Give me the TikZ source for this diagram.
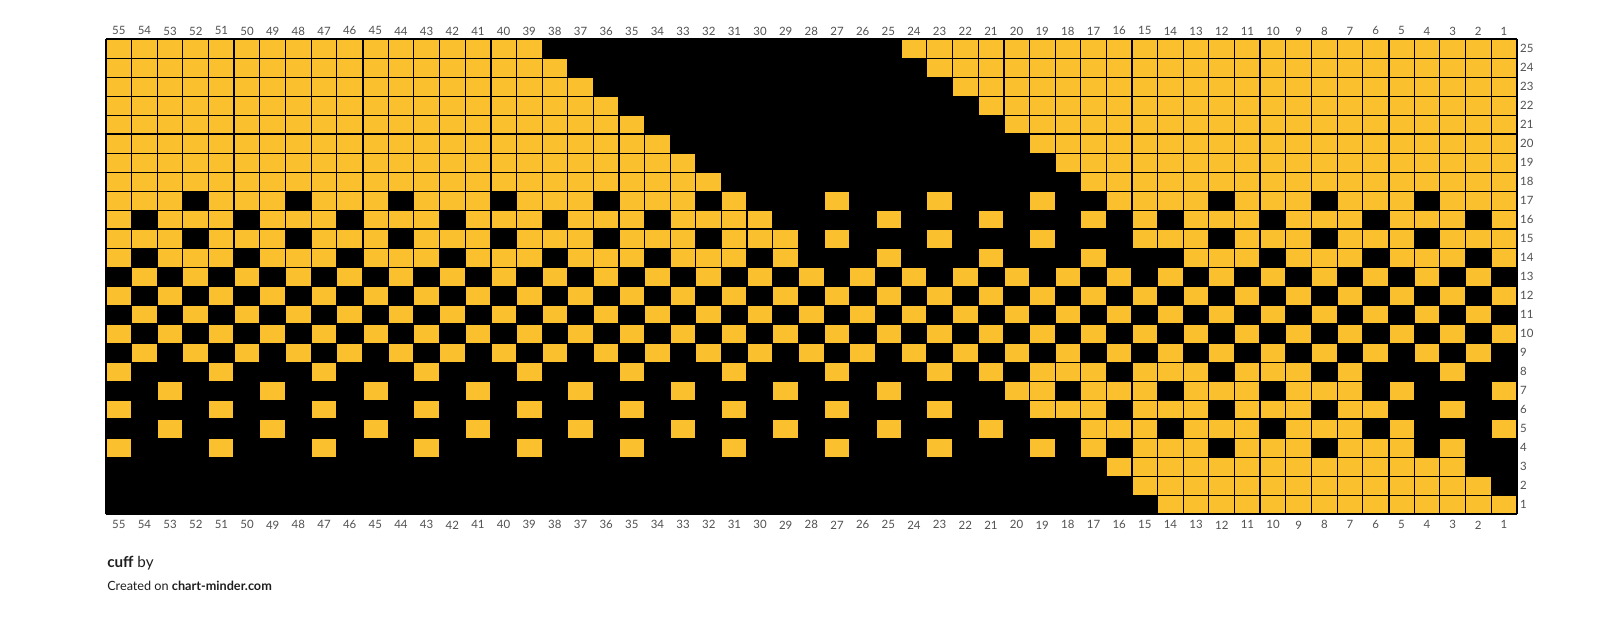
\documentclass[tikz,border=0pt]{standalone}
\usepackage{fontspec}
\setmainfont{Lato}
\definecolor{stitchgold}{RGB}{251,192,45}
\definecolor{labelgray}{RGB}{80,80,80}
\definecolor{footerdark}{RGB}{30,30,30}

% one row of gold stitches, given as ranges of columns (from/to)
\newcommand{\goldrow}[2]{%
  \foreach \a/\b in {#2} \fill[stitch] ({55-\a},{#1-1}) rectangle ({56-\b},#1);}

\begin{document}
\begin{tikzpicture}[
    x=19.24pt, y=14.25pt,
    stitch/.style={fill=stitchgold},
    thinline/.style={draw=black, line width=0.75pt},
    thickline/.style={draw=black, line width=1.5pt},
    collabel/.style={font=\fontsize{8.6}{9}\selectfont, text=labelgray, inner sep=0pt},
    rowlabel/.style={collabel, anchor=west},
    footer/.style={anchor=west, inner sep=0pt, text=footerdark}
]
\useasboundingbox (-4.1326,-5.405) rectangle (59.103,27.068);

% Background of the chart
\fill[black] (0,0) rectangle (55,25);

% Rows 25 to 18
\goldrow{25}{55/39, 24/1}
\goldrow{24}{55/38, 23/1}
\goldrow{23}{55/37, 22/1}
\goldrow{22}{55/36, 21/1}
\goldrow{21}{55/35, 20/1}
\goldrow{20}{55/34, 19/1}
\goldrow{19}{55/33, 18/1}
\goldrow{18}{55/32, 17/1}

% Rows 17 to 14
\goldrow{17}{55/53, 51/49, 47/45, 43/41, 39/37, 35/33, 31/31, 27/27, 23/23, 19/19, 16/13, 11/9, 7/5, 3/1}
\goldrow{16}{55/55, 53/51, 49/47, 45/43, 41/39, 37/35, 33/30, 25/25, 21/21, 17/17, 15/15, 13/11, 9/7, 5/3, 1/1}
\goldrow{15}{55/53, 51/49, 47/45, 43/41, 39/37, 35/33, 31/29, 27/27, 23/23, 19/19, 15/13, 11/9, 7/5, 3/1}
\goldrow{14}{55/55, 53/51, 49/47, 45/43, 41/39, 37/35, 33/31, 29/29, 25/25, 21/21, 17/17, 13/11, 9/7, 5/3, 1/1}

% Checkerboard, rows 13 to 9
\foreach \r in {13,11,9}
  \foreach \c in {2,4,...,54} \fill[stitch] ({55-\c},{\r-1}) rectangle ({56-\c},\r);
\foreach \r in {12,10}
  \foreach \c in {1,3,...,55} \fill[stitch] ({55-\c},{\r-1}) rectangle ({56-\c},\r);

% Rows 8 to 4
\goldrow{8}{55/55, 51/51, 47/47, 43/43, 39/39, 35/35, 31/31, 27/27, 23/23, 21/21, 19/17, 15/13, 11/9, 7/7, 3/3}
\goldrow{7}{53/53, 49/49, 45/45, 41/41, 37/37, 33/33, 29/29, 25/25, 20/19, 17/15, 13/11, 9/7, 5/5, 1/1}
\goldrow{6}{55/55, 51/51, 47/47, 43/43, 39/39, 35/35, 31/31, 27/27, 23/23, 19/17, 15/13, 11/9, 7/6, 3/3}
\goldrow{5}{53/53, 49/49, 45/45, 41/41, 37/37, 33/33, 29/29, 25/25, 21/21, 17/15, 13/11, 9/7, 5/5, 1/1}
\goldrow{4}{55/55, 51/51, 47/47, 43/43, 39/39, 35/35, 31/31, 27/27, 23/23, 19/19, 17/17, 15/13, 11/9, 7/5, 3/3}

% Rows 3 to 1
\goldrow{3}{16/3}
\goldrow{2}{15/2}
\goldrow{1}{14/1}

% Grid
\foreach \i in {0,...,55} \draw[thinline] (\i,0) -- (\i,25);
\foreach \j in {0,...,25} \draw[thinline] (0,\j) -- (55,\j);
\foreach \i in {0,5,...,55} \draw[thickline] (\i,0) -- (\i,25);
\foreach \j in {0,5,...,25} \draw[thickline] (0,\j) -- (55,\j);

% Column and row numbers
\foreach \c in {1,...,55} {
  \node[collabel] (top-\c) at ({55.5-\c},25.44) {\c};
  \node[collabel] (bot-\c) at ({55.5-\c},-0.56) {\c};
}
\foreach \r in {1,...,25}
  \node[rowlabel] (row-\r) at (55.12,{\r-0.5}) {\r};

% Footer
\node[footer, font=\fontsize{11.4}{13}\selectfont] (title) at (0.04,-2.56) {\textbf{cuff} by};
\node[footer, font=\fontsize{9.5}{11}\selectfont] (credit) at (0.04,-3.77) {Created on \textbf{chart-minder.com}};

\end{tikzpicture}
\end{document}
